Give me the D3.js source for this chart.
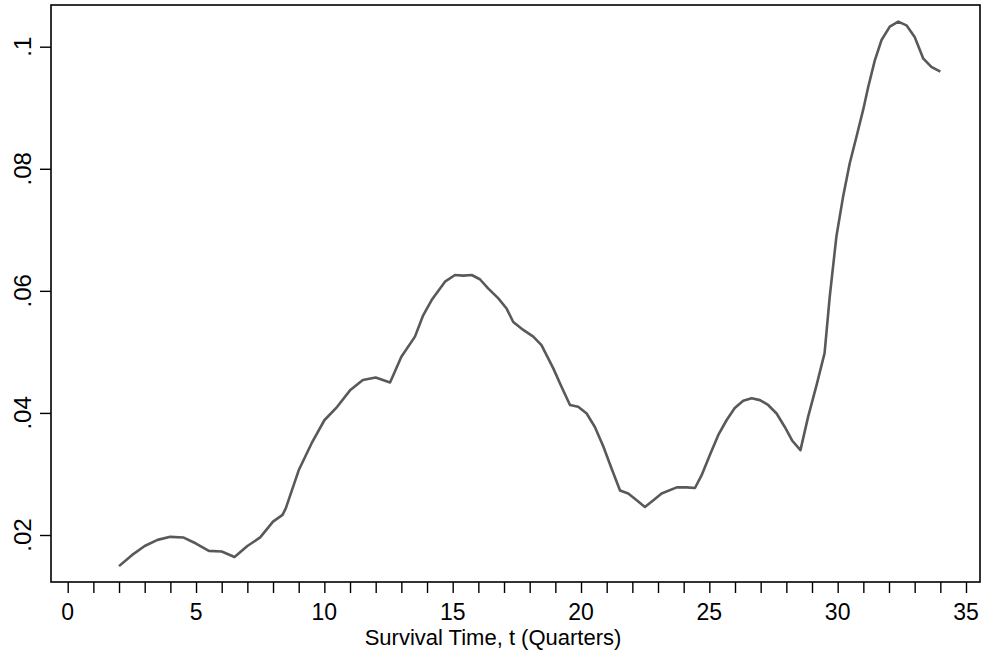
<!DOCTYPE html>
<html>
<head>
<meta charset="utf-8">
<script src="https://cdn.jsdelivr.net/npm/d3@7"></script>
<style>
  body { margin: 0; background: #fff; }
  text { font-family: "Liberation Sans", Arial, Helvetica, sans-serif; fill: #000; }
</style>
</head>
<body>
<svg></svg>
<script>
// survival time (quarters) and smoothed hazard
var timeValues = [2.0, 2.5, 3.0, 3.5, 4.0, 4.5, 5.0, 5.5, 6.0, 6.5, 7.0, 7.5, 8.0, 8.37, 8.5,
    9.0, 9.5, 10.0, 10.5, 11.0, 11.5, 12.0, 12.56, 13.0, 13.53, 13.85, 14.18, 14.7, 15.09,
    15.41, 15.74, 16.06, 16.38, 16.77, 17.1, 17.36, 17.75, 18.14, 18.46, 18.92, 19.24,
    19.57, 19.89, 20.22, 20.54, 20.87, 21.19, 21.52, 21.84, 22.17, 22.49, 22.82, 23.14,
    23.73, 24.11, 24.44, 24.7, 25.02, 25.35, 25.67, 25.99, 26.32, 26.65, 26.97, 27.29,
    27.62, 27.94, 28.24, 28.55, 28.85, 29.18, 29.49, 29.69, 29.95, 30.21, 30.47, 30.73,
    30.99, 31.19, 31.45, 31.71, 32.03, 32.36, 32.68, 33.0, 33.33, 33.65, 34.0]
var hazardValues = [0.0149, 0.0167, 0.0182, 0.0192, 0.0197, 0.0196, 0.0186, 0.0174, 0.0173,
    0.0164, 0.0182, 0.0196, 0.0222, 0.0233, 0.0244, 0.0306, 0.0350, 0.0388, 0.0410, 0.0437,
    0.0454, 0.0458, 0.0450, 0.0492, 0.0525, 0.0560, 0.0585, 0.0615, 0.0626, 0.0625, 0.0626,
    0.0619, 0.0604, 0.0588, 0.0571, 0.0549, 0.0536, 0.0525, 0.0511, 0.0473, 0.0443, 0.0413,
    0.0410, 0.0399, 0.0377, 0.0345, 0.0309, 0.0273, 0.0268, 0.0257, 0.0246, 0.0257, 0.0268,
    0.0278, 0.0278, 0.0277, 0.0298, 0.0331, 0.0364, 0.0388, 0.0408, 0.0420, 0.0424, 0.0421,
    0.0413, 0.0399, 0.0377, 0.0354, 0.0339, 0.0394, 0.0446, 0.0498, 0.0590, 0.0689, 0.0754,
    0.0809, 0.0852, 0.0896, 0.0934, 0.0978, 0.1011, 0.1033, 0.1041, 0.1035, 0.1016, 0.0981,
    0.0967, 0.0959]

var xTicks = [0, 5, 10, 15, 20, 25, 30, 35]
var xMinorTicks = [0, 1, 2, 3, 4, 5, 6, 7, 8, 9, 10, 11, 12, 13, 14, 15, 16, 17, 18, 19, 20,
    21, 22, 23, 24, 25, 26, 27, 28, 29, 30, 31, 32, 33, 34, 35]
var yTicks = [0.02, 0.04, 0.06, 0.08, 0.1]
var yTickLabels = ['.02', '.04', '.06', '.08', '.1']
var xTitle = 'Survival Time, t (Quarters)'

function main() {
    var svgWidth = 985, svgHeight = 658
    var left = 51, right = 980, top = 5, bottom = 582

    var svg = d3.select('svg').attr('width', svgWidth).attr('height', svgHeight)

    // scales
    var xScale = d3.scaleLinear().domain([0, 35]).range([67.7, 966])
    var yScale = d3.scaleLinear().domain([0.02, 0.1]).range([535, 46.7])

    // plot region box
    svg.append('rect')
        .attr('x', left).attr('y', top)
        .attr('width', right - left).attr('height', bottom - top)
        .attr('fill', 'none').attr('stroke', '#000').attr('stroke-width', 1.6)

    // x axis: all ticks same length
    var xAxis = d3.axisBottom(xScale)
        .tickValues(xMinorTicks)
        .tickSize(11)
        .tickFormat('')
    var gx = svg.append('g').attr('transform', `translate(0, ${bottom})`).call(xAxis)
    gx.select('.domain').remove()
    gx.selectAll('line').attr('stroke', '#000').attr('stroke-width', 1.4)

    svg.append('g').selectAll('text')
        .data(xTicks)
        .enter().append('text')
        .attr('x', function(d) {return xScale(d)})
        .attr('y', 620)
        .attr('text-anchor', 'middle')
        .style('font-size', '23px')
        .text(function(d) {return d})

    // y axis
    var yAxis = d3.axisLeft(yScale).tickValues(yTicks).tickSize(11).tickFormat('')
    var gy = svg.append('g').attr('transform', `translate(${left}, 0)`).call(yAxis)
    gy.select('.domain').remove()
    gy.selectAll('line').attr('stroke', '#000').attr('stroke-width', 1.4)

    svg.append('g').selectAll('text')
        .data(yTicks)
        .enter().append('text')
        .attr('transform', function(d) {return `translate(31, ${yScale(d)}) rotate(-90)`})
        .attr('text-anchor', 'middle')
        .style('font-size', '24px')
        .text(function(d, i) {return yTickLabels[i]})

    // x title
    svg.append('text')
        .attr('x', 493)
        .attr('y', 645)
        .attr('text-anchor', 'middle')
        .style('font-size', '22px')
        .text(xTitle)

    // hazard line
    var line = d3.line()
        .x(function(d) {return xScale(d[0])})
        .y(function(d) {return yScale(d[1])})
    var points = timeValues.map(function(t, i) {return [t, hazardValues[i]]})
    svg.append('path')
        .datum(points)
        .attr('d', line)
        .attr('fill', 'none')
        .attr('stroke', '#595959')
        .attr('stroke-width', 2.6)
        .attr('stroke-linejoin', 'round')
}

main()
</script>
</body>
</html>
